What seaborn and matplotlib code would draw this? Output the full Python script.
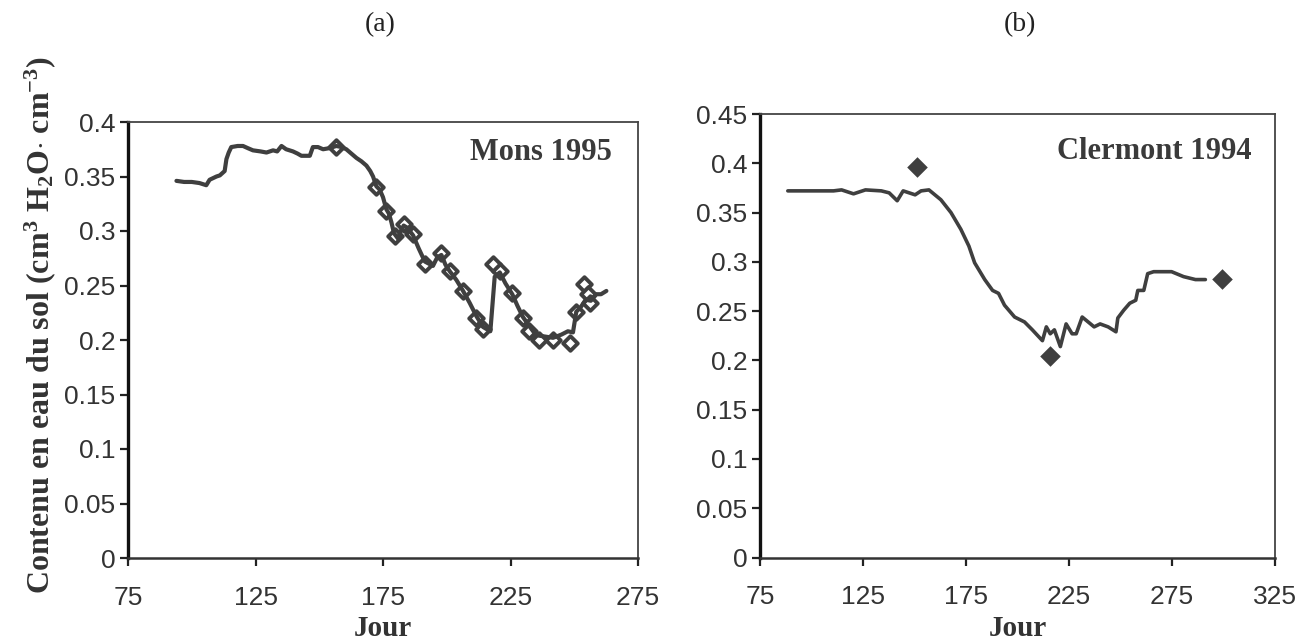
import matplotlib
matplotlib.use("Agg")
import matplotlib.pyplot as plt
import seaborn as sns
import pandas as pd

# ---- Mons 1995: simulated soil water content (line) and measurements (diamonds)
mons_sim_day = [94, 97, 100, 103, 105.7, 107, 109.7, 111, 112.9, 113.6, 114.5, 115.5,
                118, 120.1, 122, 124, 127, 129.3, 131.9, 133.5, 135.2, 137, 139.7,
                141.5, 143, 144.7, 146.3, 147.5, 149.5, 151.5, 154, 156.7, 158.7,
                160.6, 162.6, 164.6, 166.5, 168.5, 170, 171.1, 172.4, 173.7, 175,
                176.3, 177.3, 178.3, 179.3, 180.9, 182, 183.1, 184.5, 186.8, 189,
                191.4, 193, 194.6, 196.3, 197.9, 199.5, 201.2, 203.8, 206.4, 209,
                211.6, 214.2, 217.1, 218.8, 220.8, 223, 225.7, 227.8, 229.9, 232.3,
                234.2, 236.2, 239, 241.7, 245, 247.5, 249.5, 250.8, 252.5, 254.5,
                256.5, 258.7, 260.5, 262.6]
mons_sim_val = [0.346, 0.345, 0.345, 0.344, 0.342, 0.347, 0.350, 0.351, 0.355, 0.366,
                0.372, 0.377, 0.378, 0.378, 0.376, 0.374, 0.373, 0.372, 0.374, 0.373,
                0.378, 0.375, 0.373, 0.371, 0.369, 0.369, 0.369, 0.377, 0.377, 0.375,
                0.376, 0.378, 0.377, 0.375, 0.371, 0.367, 0.364, 0.360, 0.355, 0.350,
                0.341, 0.338, 0.331, 0.320, 0.316, 0.308, 0.298, 0.293, 0.300, 0.305,
                0.303, 0.296, 0.284, 0.272, 0.270, 0.268, 0.276, 0.278, 0.269, 0.263,
                0.255, 0.245, 0.234, 0.222, 0.212, 0.208, 0.258, 0.262, 0.252, 0.242,
                0.231, 0.221, 0.213, 0.207, 0.204, 0.203, 0.202, 0.205, 0.208, 0.207,
                0.226, 0.230, 0.237, 0.236, 0.242, 0.242, 0.245]
mons_obs_day = [156.7, 172.4, 176.3, 179.6, 183.3, 186.8, 191.4, 197.9, 201.2, 206.4,
                211.6, 214.2, 218.1, 220.8, 225.7, 229.9, 232.3, 236.2, 241.7, 248.2,
                250.8, 253.7, 255.4, 256.1]
mons_obs_val = [0.377, 0.340, 0.318, 0.295, 0.306, 0.297, 0.270, 0.280, 0.263, 0.245,
                0.220, 0.210, 0.270, 0.263, 0.243, 0.220, 0.208, 0.200, 0.200, 0.197,
                0.226, 0.251, 0.242, 0.234]

# ---- Clermont 1994
cler_sim_day = [88.5, 110.7, 114.6, 120.4, 126.2, 133.9, 137.7, 141.6, 144.5, 150.3,
                153.2, 157, 162.8, 167.7, 172.5, 176.4, 179.2, 184.1, 187.9, 190.8,
                193.7, 198.6, 203.4, 207.2, 212.1, 214.0, 215.9, 217.9, 220.8, 223.6,
                226.5, 228.5, 231.4, 234.3, 237.2, 240.1, 244.0, 247.8, 248.7, 251.6,
                254.5, 257.4, 258.4, 261.3, 263.2, 266.1, 271, 274.8, 280.6, 286.4,
                291.2]
cler_sim_val = [0.372, 0.372, 0.373, 0.369, 0.373, 0.372, 0.370, 0.362, 0.372, 0.368,
                0.372, 0.373, 0.363, 0.350, 0.333, 0.316, 0.299, 0.282, 0.271, 0.268,
                0.256, 0.244, 0.239, 0.231, 0.220, 0.234, 0.227, 0.231, 0.214, 0.237,
                0.227, 0.227, 0.244, 0.239, 0.234, 0.237, 0.234, 0.229, 0.243, 0.251,
                0.258, 0.261, 0.271, 0.271, 0.288, 0.290, 0.290, 0.290, 0.285, 0.282,
                0.282]
cler_obs_day = [151.3, 215.9, 299.5]
cler_obs_val = [0.396, 0.204, 0.283]

mons_ticks_x = [75, 125, 175, 225, 275]
mons_ticks_y = [0, 0.05, 0.1, 0.15, 0.2, 0.25, 0.3, 0.35, 0.4]
mons_ticklabels_y = ["0", "0.05", "0.1", "0.15", "0.2", "0.25", "0.3", "0.35", "0.4"]
cler_ticks_x = [75, 125, 175, 225, 275, 325]
cler_ticks_y = [0, 0.05, 0.1, 0.15, 0.2, 0.25, 0.3, 0.35, 0.4, 0.45]
cler_ticklabels_y = ["0", "0.05", "0.1", "0.15", "0.2", "0.25", "0.3", "0.35", "0.4", "0.45"]

sns.set_style("ticks")
plt.rcParams["mathtext.fontset"] = "custom"
plt.rcParams["mathtext.rm"] = "Liberation Serif:bold"
plt.rcParams["mathtext.bf"] = "Liberation Serif:bold"
plt.rcParams["mathtext.it"] = "Liberation Serif:bold"
plt.rcParams["mathtext.default"] = "bf"

INK = "#3f3f3f"
SERIF = "Liberation Serif"
SANS = "Liberation Sans"

fig = plt.figure(figsize=(13.01, 6.43), dpi=100)
ax1 = fig.add_axes([128 / 1301, (643 - 558) / 643, 510 / 1301, 436 / 643])
ax2 = fig.add_axes([760 / 1301, (643 - 557.5) / 643, 515 / 1301, 443.5 / 643])

mons_sim = pd.DataFrame({"jour": mons_sim_day, "theta": mons_sim_val})
mons_obs = pd.DataFrame({"jour": mons_obs_day, "theta": mons_obs_val})
cler_sim = pd.DataFrame({"jour": cler_sim_day, "theta": cler_sim_val})
cler_obs = pd.DataFrame({"jour": cler_obs_day, "theta": cler_obs_val})

# Mons: open diamonds under the simulated curve
sns.scatterplot(data=mons_obs, x="jour", y="theta", ax=ax1, marker="D", s=55,
                facecolor="white", edgecolor=INK, linewidth=2.8, zorder=2)
sns.lineplot(data=mons_sim, x="jour", y="theta", ax=ax1, color=INK, lw=3.0,
             sort=False, zorder=3, estimator=None)

# Clermont: filled diamonds
sns.lineplot(data=cler_sim, x="jour", y="theta", ax=ax2, color=INK, lw=2.6,
             sort=False, zorder=3, estimator=None)
sns.scatterplot(data=cler_obs, x="jour", y="theta", ax=ax2, marker="D", s=110,
                color=INK, edgecolor=INK, linewidth=0, zorder=4)

for ax, xt, yt, ytl, xmax, ymax in [
    (ax1, mons_ticks_x, mons_ticks_y, mons_ticklabels_y, 275, 0.4),
    (ax2, cler_ticks_x, cler_ticks_y, cler_ticklabels_y, 325, 0.45),
]:
    ax.set_xlim(75, xmax)
    ax.set_ylim(0, ymax)
    ax.set_xticks(xt)
    ax.set_xticklabels([str(v) for v in xt])
    ax.set_yticks(yt)
    ax.set_yticklabels(ytl)
    ax.tick_params(axis="both", direction="out", length=6, width=1.6, color="#222222",
                   labelsize=19, labelcolor="#333333", pad=3)
    for lbl in ax.get_xticklabels() + ax.get_yticklabels():
        lbl.set_fontfamily(SANS)
    ax.tick_params(axis="x", pad=14)
    ax.spines["left"].set_linewidth(2.4)
    ax.spines["left"].set_color("#111111")
    ax.spines["bottom"].set_linewidth(1.8)
    ax.spines["bottom"].set_color("#333333")
    for s in ("top", "right"):
        ax.spines[s].set_visible(True)
        ax.spines[s].set_linewidth(1.3)
        ax.spines[s].set_color("#444444")
    ax.set_xlabel("Jour", fontfamily=SERIF, fontweight="bold", fontsize=21,
                  color="#333333", labelpad=4)
    ax.set_ylabel("")
    ax.set_facecolor("white")

ax1.text(0.949, 0.929, "Mons 1995", transform=ax1.transAxes, ha="right", va="center",
         fontfamily=SERIF, fontweight="bold", fontsize=22, color="#3a3a3a")
ax2.text(0.955, 0.915, "Clermont 1994", transform=ax2.transAxes, ha="right", va="center",
         fontfamily=SERIF, fontweight="bold", fontsize=22, color="#3a3a3a")

fig.text(380 / 1301, 1 - 25 / 643, "(a)", ha="center", va="center",
         fontfamily=SERIF, fontsize=20, color="#222222")
fig.text(1020 / 1301, 1 - 25 / 643, "(b)", ha="center", va="center",
         fontfamily=SERIF, fontsize=20, color="#222222")

fig.text(40 / 1301, 1 - 325 / 643,
         "Contenu en eau du sol (cm$^{3}$ H$_{2}$O$\\cdot$ cm$^{-3}$)",
         rotation=90, ha="center", va="center", fontfamily=SERIF,
         fontweight="bold", fontsize=23, color="#333333")

fig.savefig("out.png", dpi=100, facecolor="white")
